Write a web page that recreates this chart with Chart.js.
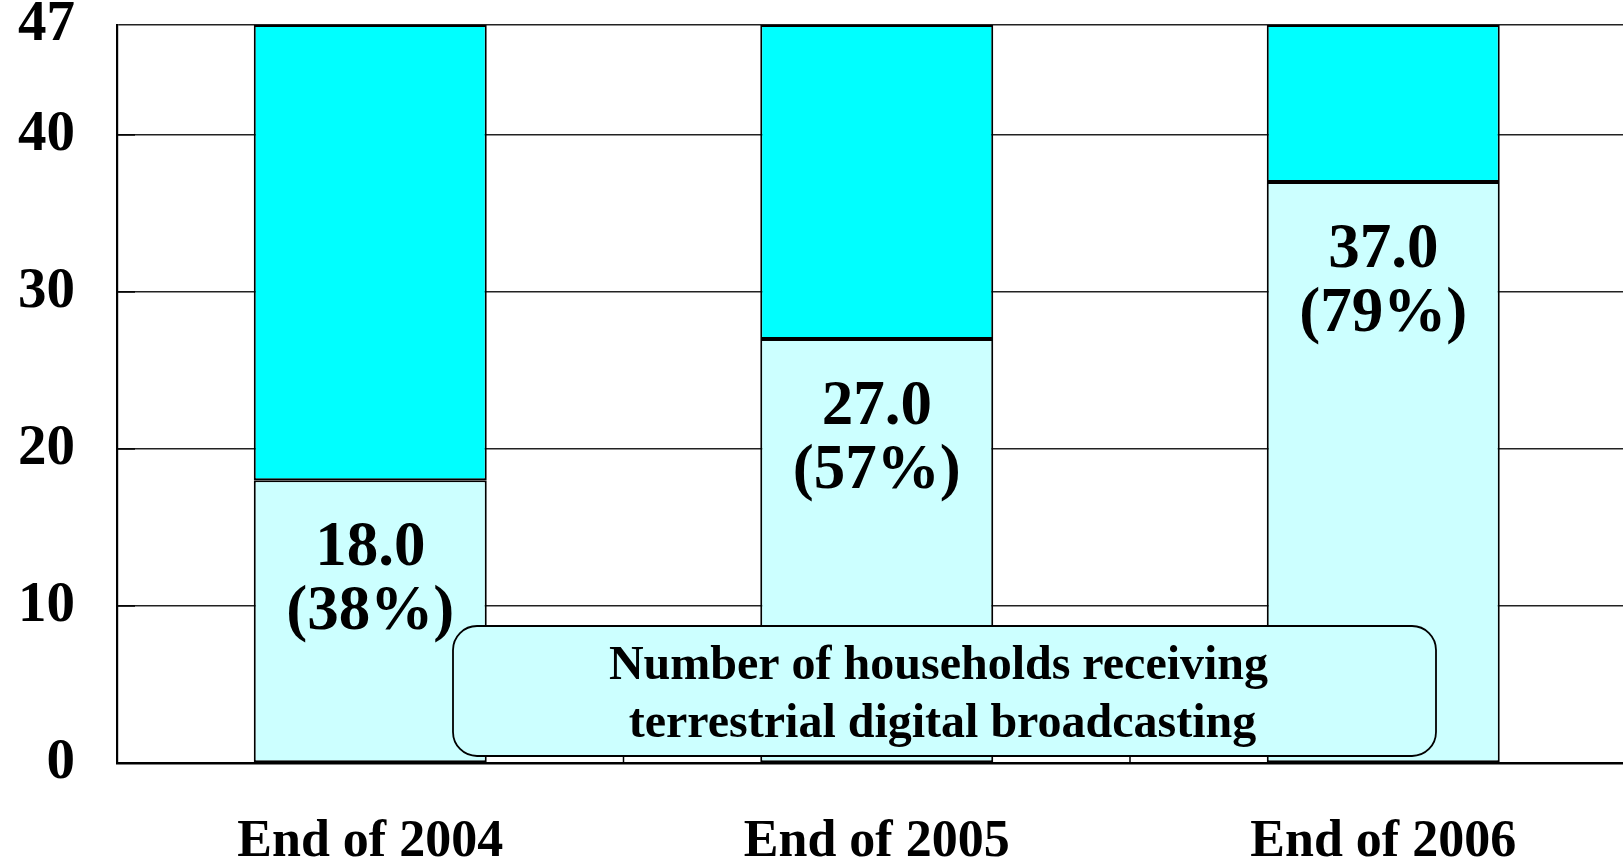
<!DOCTYPE html>
<html>
<head>
<meta charset="utf-8">
<script src="https://cdn.jsdelivr.net/npm/chart.js@4/dist/chart.umd.min.js"></script>
<style>
  html, body { margin: 0; padding: 0; background: #fff; overflow: hidden; }
  #wrap { width: 1623px; height: 858px; overflow: hidden; position: relative; }
  canvas { display: block; }
</style>
</head>
<body>
<div id="wrap"><canvas id="c" width="1640" height="858" style="width:1640px;height:858px"></canvas></div>
<script>
// ---- data ----
const categories = ['End of 2004', 'End of 2005', 'End of 2006'];
const receiving = [18.0, 27.0, 37.0];          // households receiving (millions)
const remaining = [29.0, 20.0, 10.0];          // rest up to 47
const shareLabels = ['(38%)', '(57%)', '(79%)'];
const valueLabels = ['18.0', '27.0', '37.0'];
const yTicks = [0, 10, 20, 30, 40, 47];
const boxLines = ['Number of households receiving', 'terrestrial digital broadcasting'];

const SERIF = '"Liberation Serif", "Times New Roman", serif';

const overlay = {
  id: 'overlay',
  afterDatasetsDraw(chart) {
    const ctx = chart.ctx;
    const area = chart.chartArea;
    const xs = chart.scales.x;
    ctx.save();
    ctx.strokeStyle = '#000';
    ctx.lineWidth = 1.5;
    for (let i = 0; i < categories.length - 1; i++) {
      const bx = (xs.getPixelForValue(i) + xs.getPixelForValue(i + 1)) / 2;
      ctx.beginPath();
      ctx.moveTo(bx, area.bottom);
      ctx.lineTo(bx, area.bottom - 6);
      ctx.stroke();
    }
    const ys = chart.scales.y;
    yTicks.forEach(v => {
      if (v === 0 || v === 47) return;
      const py = ys.getPixelForValue(v);
      ctx.beginPath();
      ctx.moveTo(area.left, py);
      ctx.lineTo(area.left + 18, py);
      ctx.stroke();
    });
    ctx.restore();

    const meta = chart.getDatasetMeta(0);
    ctx.save();
    ctx.fillStyle = '#000';
    ctx.font = 'bold 63px ' + SERIF;
    ctx.textAlign = 'center';
    ctx.textBaseline = 'alphabetic';
    meta.data.forEach((el, i) => {
      const top = el.y;
      ctx.fillText(valueLabels[i], el.x, top + 85);
      ctx.fillText(shareLabels[i], el.x, top + 149);
    });
    ctx.restore();

    const bx0 = area.left + 336, by0 = area.top + 601, bw = 983, bh = 130, r = 24;
    ctx.save();
    ctx.beginPath();
    ctx.moveTo(bx0 + r, by0);
    ctx.lineTo(bx0 + bw - r, by0);
    ctx.arcTo(bx0 + bw, by0, bx0 + bw, by0 + r, r);
    ctx.lineTo(bx0 + bw, by0 + bh - r);
    ctx.arcTo(bx0 + bw, by0 + bh, bx0 + bw - r, by0 + bh, r);
    ctx.lineTo(bx0 + r, by0 + bh);
    ctx.arcTo(bx0, by0 + bh, bx0, by0 + bh - r, r);
    ctx.lineTo(bx0, by0 + r);
    ctx.arcTo(bx0, by0, bx0 + r, by0, r);
    ctx.closePath();
    ctx.fillStyle = '#CCFFFF';
    ctx.fill();
    ctx.strokeStyle = '#000';
    ctx.lineWidth = 1.8;
    ctx.stroke();
    ctx.fillStyle = '#000';
    ctx.font = 'bold 48px ' + SERIF;
    ctx.textAlign = 'center';
    ctx.textBaseline = 'alphabetic';
    ctx.fillText(boxLines[0], bx0 + bw / 2 - 6, by0 + 53);
    ctx.fillText(boxLines[1], bx0 + bw / 2 - 2, by0 + 111);
    ctx.restore();
  }
};

new Chart(document.getElementById('c'), {
  type: 'bar',
  data: {
    labels: categories,
    datasets: [
      {
        label: 'Receiving',
        data: receiving,
        backgroundColor: '#CCFFFF',
        borderColor: '#000',
        borderWidth: 2,
        borderSkipped: false,
        barPercentage: 0.46,
        categoryPercentage: 1.0
      },
      {
        label: 'Remaining',
        data: remaining,
        backgroundColor: '#00FFFF',
        borderColor: '#000',
        borderWidth: 2,
        borderSkipped: false,
        barPercentage: 0.46,
        categoryPercentage: 1.0
      }
    ]
  },
  options: {
    responsive: false,
    animation: false,
    layout: { padding: { top: 25, right: 3.5, left: 0, bottom: 0 } },
    plugins: {
      legend: { display: false },
      tooltip: { enabled: false },
      title: { display: false }
    },
    scales: {
      x: {
        stacked: true,
        grid: { display: false },
        border: { display: true, color: '#000', width: 2.5 },
        ticks: {
          color: '#000',
          font: { family: SERIF, size: 52, weight: 'bold' },
          padding: 40,
          maxRotation: 0,
          autoSkip: false
        },
        afterFit(scale) { scale.height = 95; scale.paddingLeft = 0; scale.paddingRight = 0; }
      },
      y: {
        stacked: true,
        min: 0,
        max: 47,
        afterBuildTicks(scale) { scale.ticks = yTicks.map(v => ({ value: v })); },
        grid: { color: '#222', lineWidth: 1.5, drawTicks: false },
        border: { display: true, color: '#000', width: 2.2 },
        ticks: {
          color: '#000',
          font: { family: SERIF, size: 57, weight: 'bold' },
          padding: 42
        },
        afterFit(scale) { scale.width = 117; scale.paddingTop = 0; scale.paddingBottom = 0; }
      }
    }
  },
  plugins: [overlay]
});
</script>
</body>
</html>
